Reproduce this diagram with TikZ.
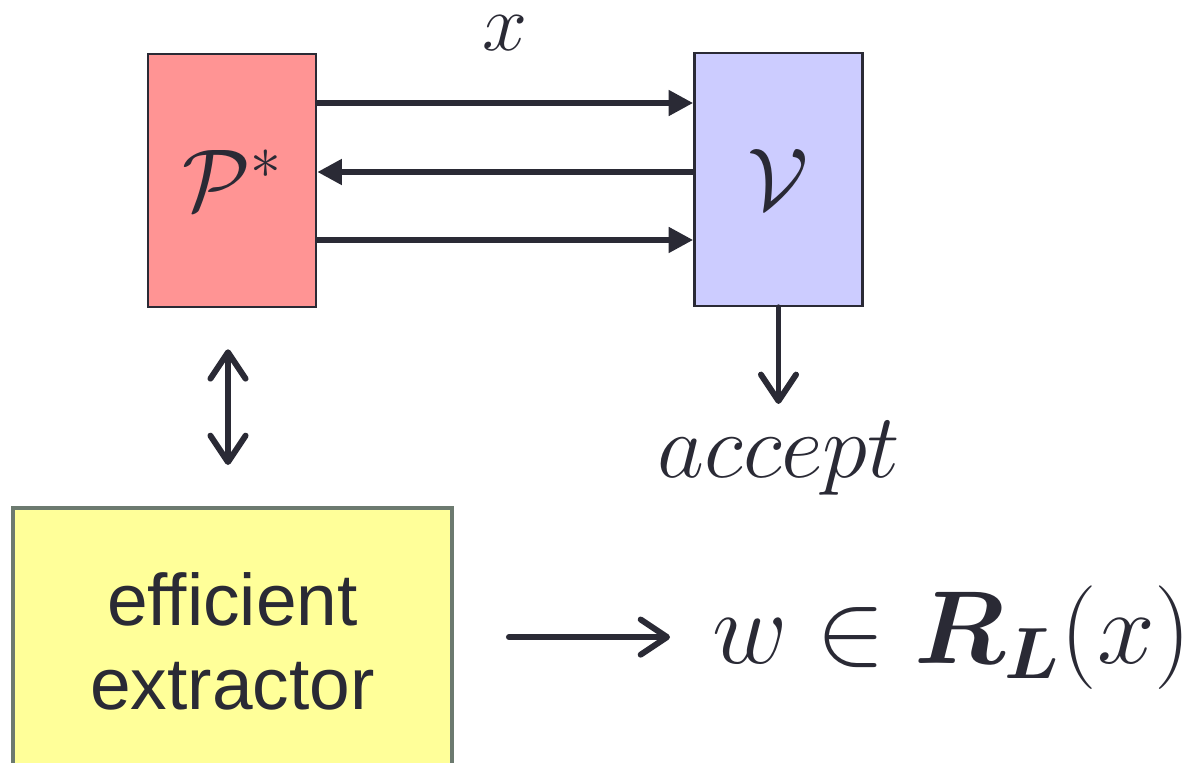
\RequirePackage{fix-cm}
\documentclass[tikz,border=0pt]{standalone}
\usepackage{fontspec}
\setsansfont{Liberation Sans}
\usepackage{bm}
\usetikzlibrary{arrows.meta}
\definecolor{inkc}{HTML}{2A2A35}
\definecolor{provfill}{HTML}{FF9494}
\definecolor{verfill}{HTML}{CCCCFF}
\definecolor{extfill}{HTML}{FFFF99}
\definecolor{extline}{HTML}{6C7A6F}
\begin{document}
\begin{tikzpicture}[x=0.02cm,y=-0.02cm,inkc,
  party/.style={draw=inkc,line width=1.5pt,minimum width=3.36cm,minimum height=5.06cm,inner sep=0pt,font=\fontsize{50}{56}\selectfont},
  msgarr/.style={line width=3.4pt,-{Triangle[length=14pt,width=14pt]}},
  outarr/.style={line width=3.4pt,line cap=round,-{Straight Barb[length=15pt,width=20pt,round]}},
  twoarr/.style={line width=3.4pt,line cap=round,{Straight Barb[length=15pt,width=20pt,round]}-{Straight Barb[length=15pt,width=20pt,round]}}]
\useasboundingbox (0,0) rectangle (1194,763);
\node[party,fill=provfill] (prv) at (232,180.5) {$\mathcal{P}^*$};
\node[party,fill=verfill] (ver) at (778.5,179.5) {$\mathcal{V}$};
\node[inner sep=0pt,font=\fontsize{46}{50}\selectfont] (lblx) at (505,33) {$x$};
\draw[msgarr] ([yshift=1.55cm]prv.east)--([yshift=1.55cm]prv.east -| ver.west);
\draw[msgarr] ([yshift=0.15cm]ver.west)--([yshift=0.15cm]ver.west -| prv.east);
\draw[msgarr] ([yshift=-1.19cm]prv.east)--([yshift=-1.19cm]prv.east -| ver.west);
\node[inner sep=2pt,anchor=base,font=\fontsize{52}{56}\selectfont] (acc) at (779,478) {$accept$};
\draw[outarr,shorten >=0.28cm] (ver.south)--(ver.south |- acc.north);
\node[draw=extline,fill=extfill,line width=2.3pt,minimum width=8.78cm,minimum height=5.34cm,align=center,font=\sffamily\fontsize{41.6}{48}\selectfont] (ext) at (232.5,641.5) {efficient\\extractor};
\draw[twoarr,shorten <=0.82cm,shorten >=0.82cm] ([xshift=-0.08cm]prv.south)--([xshift=-0.08cm]prv.south |- ext.north);
\node[inner sep=0pt,anchor=base west,font=\fontsize{59}{64}\selectfont] (rel) at (712,663) {$w\in\bm{R}_{\bm{L}}(x)$};
\draw[outarr,shorten <=1.1cm,shorten >=0.84cm] (ext.east |- rel.west)--(rel.west);
\end{tikzpicture}
\end{document}
